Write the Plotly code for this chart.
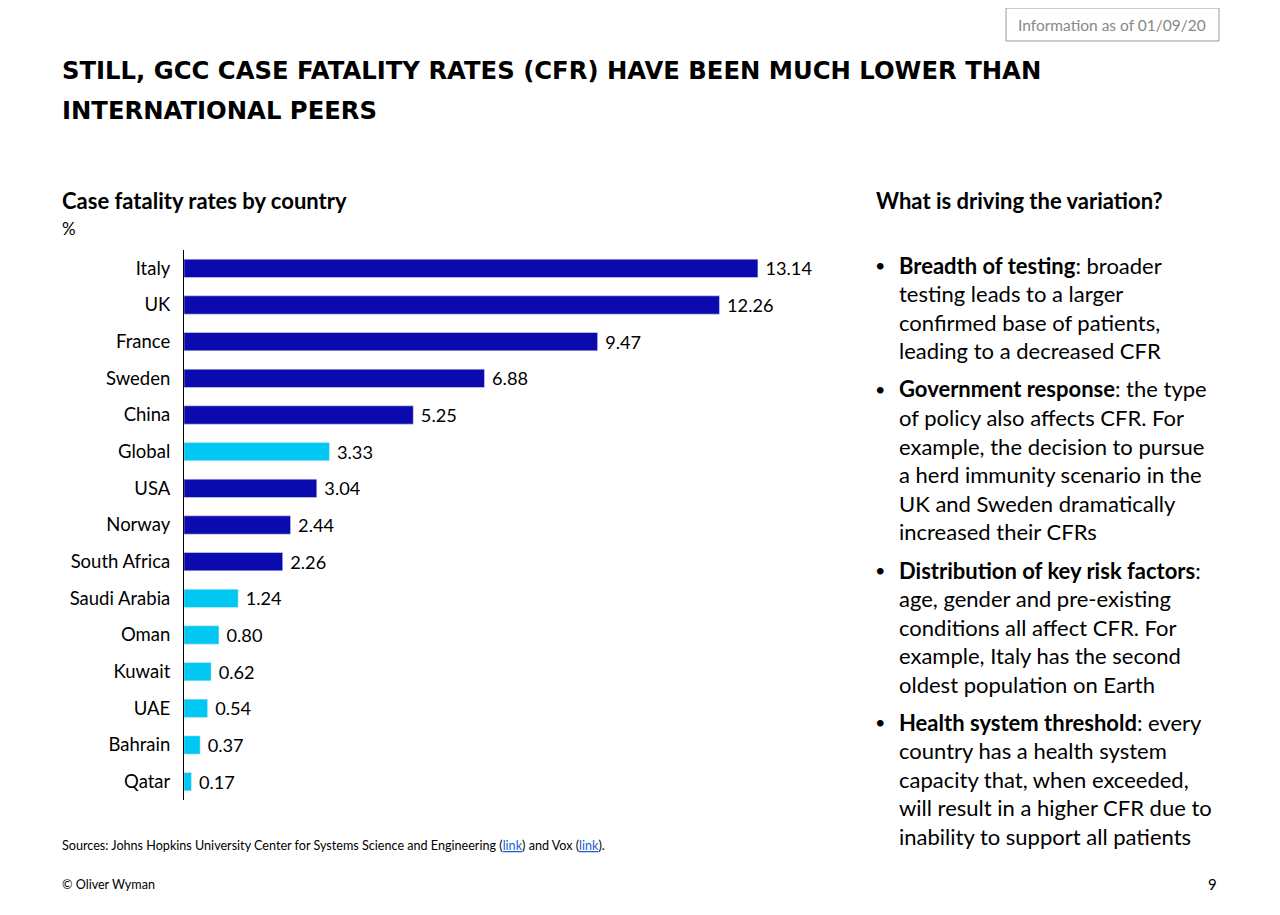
import plotly.graph_objects as go

countries = ["Italy","UK","France","Sweden","China","Global","USA","Norway","South Africa","Saudi Arabia","Oman","Kuwait","UAE","Bahrain","Qatar"]
cfr = [13.14,12.26,9.47,6.88,5.25,3.33,3.04,2.44,2.26,1.24,0.80,0.62,0.54,0.37,0.17]
highlight = {"Global","Saudi Arabia","Oman","Kuwait","UAE","Bahrain","Qatar"}
colors = ["#00C8F2" if c in highlight else "#0A0AAE" for c in countries]

W, H = 1280, 915
OFF = 8
BODY = "Lato, 'Open Sans', sans-serif"

fig = go.Figure(go.Bar(
    x=cfr, y=countries, orientation="h", marker_color=colors, width=0.5,
    text=[f"\u2009\u2009{v:.2f}" for v in cfr], textposition="outside", cliponaxis=False,
    constraintext="none",
    textfont=dict(size=18.2, color="#000", family=BODY), hoverinfo="skip"))

fig.update_layout(
    width=W, height=H, margin=dict(l=0, r=0, t=0, b=0),
    plot_bgcolor="white", paper_bgcolor="white", showlegend=False,
    xaxis=dict(domain=[(184-OFF)/W, (861-OFF)/W], range=[0, 15.5], visible=False),
    yaxis=dict(domain=[1-(800-OFF)/H, 1-(250-OFF)/H], autorange="reversed", showline=True,
               linecolor="#000", linewidth=1, ticks="", ticklabelstandoff=9,
               tickfont=dict(size=18.5, color="#000", family=BODY)),
)

def txt(x, y, s, size, bold=False, family=BODY, xanchor="left", color="#000"):
    fig.add_annotation(x=(x-OFF)/W, y=1-(y-OFF)/H, xref="paper", yref="paper", text=(f"<b>{s}</b>" if bold else s),
                       showarrow=False, xanchor=xanchor, yanchor="middle",
                       font=dict(size=size, family=family, color=color))

TF = "'DejaVu Sans', sans-serif"
txt(60, 70, "STILL, GCC CASE FATALITY RATES (CFR) HAVE BEEN MUCH LOWER THAN", 24.3, True, TF)
txt(60, 111, "INTERNATIONAL PEERS", 24.3, True, TF)
fig.add_shape(type="rect", xref="paper", yref="paper", x0=(1006-OFF)/W, x1=(1219-OFF)/W,
              y0=1-(41-OFF)/H, y1=1-(8-OFF)/H, line=dict(color="#999", width=1))
txt(1112, 25, "Information as of 01/09/20", 15.5, False, xanchor="center", color="#888")
txt(60, 201, "Case fatality rates by country", 22, True)
txt(60, 228, "%", 17)
txt(874, 201, "What is driving the variation?", 22, True)

bullets = [
    ["<b>Breadth of testing</b>: broader", "testing leads to a larger", "confirmed base of patients,", "leading to a decreased CFR"],
    ["<b>Government response</b>: the type", "of policy also affects CFR. For", "example, the decision to pursue",
     "a herd immunity scenario in the", "UK and Sweden dramatically", "increased their CFRs"],
    ["<b>Distribution of key risk factors</b>:", "age, gender and pre-existing", "conditions all affect CFR. For",
     "example, Italy has the second", "oldest population on Earth"],
    ["<b>Health system threshold</b>: every", "country has a health system", "capacity that, when exceeded,",
     "will result in a higher CFR due to", "inability to support all patients"],
]
starts = [265, 389, 570, 722]
for st, lines in zip(starts, bullets):
    txt(873, st, "•", 18)
    for i, l in enumerate(lines):
        txt(897, st + i*28.5, l, 22)

txt(60, 845, "Sources: Johns Hopkins University Center for Systems Science and Engineering (<span style='color:#1a5fd0'><u>link</u></span>) and Vox (<span style='color:#1a5fd0'><u>link</u></span>).", 12.6)
txt(60, 884, "© Oliver Wyman", 12.6)
txt(1219, 884, "9", 15, xanchor="right")

fig.write_html("out.html")
